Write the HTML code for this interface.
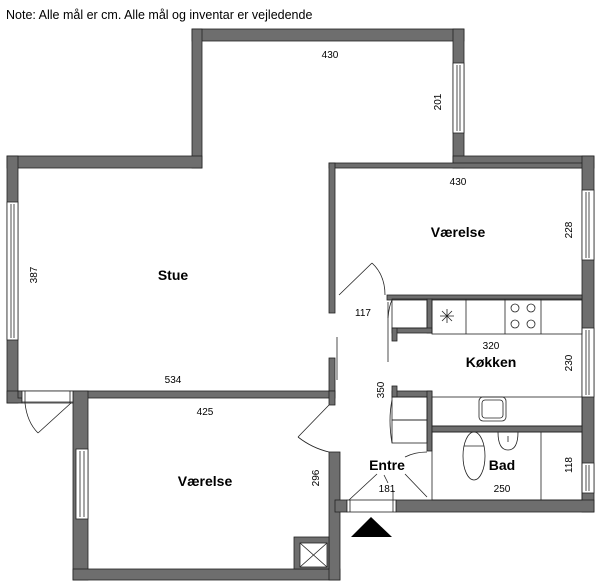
<!DOCTYPE html>
<html><head><meta charset="utf-8"><style>
html,body{margin:0;padding:0;background:#fff;width:600px;height:586px;overflow:hidden}
svg{display:block}
text{font-family:"Liberation Sans",sans-serif;font-size:10px;fill:#000}
.b{font-weight:bold;font-size:14px}
</style></head><body>
<svg width="600" height="586" viewBox="0 0 600 586" xmlns="http://www.w3.org/2000/svg">
<text x="6" y="19" style="font-size:12.5px">Note: Alle mål er cm. Alle mål og inventar er vejledende</text>
<g fill="#6e6e6e" stroke="#222" stroke-width="0.8">
<rect x="192" y="29" width="272" height="12"/>
<rect x="192" y="29" width="10" height="139"/>
<rect x="453" y="29" width="11" height="139"/>
<rect x="7" y="156" width="195" height="12"/>
<rect x="7" y="156" width="11" height="247"/>
<rect x="7" y="391" width="15" height="12"/>
<rect x="453" y="156" width="141" height="12"/>
<rect x="329" y="163" width="265" height="5"/>
<rect x="582" y="156" width="12" height="356"/>
<rect x="329" y="163" width="6" height="150"/>
<rect x="329" y="358" width="6" height="40"/>
<rect x="18" y="391" width="317" height="7"/>
<rect x="73" y="391" width="15" height="189"/>
<rect x="73" y="569" width="267" height="11"/>
<rect x="329" y="452" width="11" height="128"/>
<rect x="329" y="391" width="6" height="14"/>
<rect x="294" y="537" width="35" height="32"/>
<rect x="387" y="295" width="195" height="5"/>
<rect x="427" y="299" width="5" height="34"/>
<rect x="392" y="328" width="40" height="5"/>
<rect x="392" y="328" width="5" height="13"/>
<rect x="392" y="391" width="40" height="6"/>
<rect x="392" y="386" width="5" height="11"/>
<rect x="427" y="391" width="5" height="60"/>
<rect x="432" y="426" width="150" height="6"/>
<rect x="396" y="500" width="198" height="12"/>
<rect x="335" y="500" width="12" height="12"/>
</g>
<g fill="#fff" stroke="#222" stroke-width="0.8">
<rect x="453" y="63" width="11" height="70"/><line x1="457" y1="65" x2="457" y2="131"/><line x1="460" y1="65" x2="460" y2="131"/>
<rect x="7" y="202" width="11" height="138"/><line x1="11" y1="204" x2="11" y2="338"/><line x1="14" y1="204" x2="14" y2="338"/>
<rect x="582" y="190" width="12" height="70"/><line x1="586" y1="192" x2="586" y2="258"/><line x1="589" y1="192" x2="589" y2="258"/>
<rect x="582" y="328" width="12" height="69"/><line x1="586" y1="330" x2="586" y2="395"/><line x1="589" y1="330" x2="589" y2="395"/>
<rect x="582" y="463" width="12" height="30"/><line x1="586" y1="465" x2="586" y2="491"/><line x1="589" y1="465" x2="589" y2="491"/>
<rect x="76" y="449" width="12" height="70"/><line x1="80" y1="451" x2="80" y2="517"/><line x1="84" y1="451" x2="84" y2="517"/>
<rect x="347" y="500" width="49" height="12"/><line x1="350" y1="500" x2="350" y2="512"/><line x1="393" y1="500" x2="393" y2="512"/>
<rect x="22" y="391" width="51" height="12"/><line x1="25" y1="391" x2="25" y2="403"/><line x1="70" y1="391" x2="70" y2="403"/><line x1="22" y1="402" x2="73" y2="402"/>
<rect x="300" y="543" width="27" height="24"/>
</g>
<g fill="none" stroke="#222" stroke-width="0.8">
<line x1="300" y1="543" x2="327" y2="567"/><line x1="327" y1="543" x2="300" y2="567"/>
<line x1="38" y1="433" x2="71" y2="403"/><path d="M25 403 Q27 422 38 433"/>
<line x1="339" y1="295" x2="372" y2="263"/><path d="M372 263 Q385 275 385 295"/>
<line x1="337" y1="337" x2="337" y2="380"/>
<line x1="329" y1="405" x2="298" y2="437"/><path d="M298 437 Q312 448 329 452"/>
<line x1="388" y1="302" x2="388" y2="362"/><path d="M388 318 Q389 306 392 300"/>
<path d="M392 400 Q388 420 392 443"/>
<rect x="432" y="299" width="150" height="35"/>
<line x1="466" y1="299" x2="466" y2="334"/><line x1="505" y1="299" x2="505" y2="334"/><line x1="541" y1="299" x2="541" y2="334"/>
<circle cx="515" cy="308" r="4"/><circle cx="531" cy="308" r="4"/><circle cx="515" cy="324" r="4"/><circle cx="531" cy="324" r="4"/>
<path d="M440 316h14M447 309v14M442 311l10 10M452 311l-10 10"/>
<rect x="392" y="299" width="35" height="29"/>
<rect x="432" y="397" width="150" height="29"/>
<rect x="479" y="397" width="27" height="24" rx="4"/><rect x="482" y="400" width="21" height="18" rx="3"/>
<rect x="392" y="397" width="35" height="23"/><rect x="392" y="420" width="35" height="23"/>
<rect x="432" y="432" width="150" height="68"/>
<line x1="541" y1="432" x2="541" y2="500"/>
<ellipse cx="474" cy="456" rx="11" ry="24"/><line x1="464" y1="446" x2="484" y2="446"/>
<path d="M498 432 Q498 450 508 450 Q518 450 518 432"/><line x1="508" y1="436" x2="508" y2="442"/>
<path d="M405 457 Q415 452 427 452"/>
<line x1="349" y1="500" x2="377" y2="474"/><line x1="427" y1="497" x2="405" y2="474"/>
<line x1="384" y1="475" x2="388" y2="483"/><line x1="393" y1="490" x2="393" y2="500"/>
</g>
<polygon points="351,537 371,517 392,537" fill="#000"/>
<text x="330" y="58" text-anchor="middle">430</text>
<text transform="translate(441,102) rotate(-90)" text-anchor="middle">201</text>
<text x="458" y="185" text-anchor="middle">430</text>
<text class="b" x="458" y="237" text-anchor="middle">Værelse</text>
<text transform="translate(572,230) rotate(-90)" text-anchor="middle">228</text>
<text transform="translate(37,275) rotate(-90)" text-anchor="middle">387</text>
<text class="b" x="173" y="280" text-anchor="middle">Stue</text>
<text x="363" y="316" text-anchor="middle">117</text>
<text x="491" y="349" text-anchor="middle">320</text>
<text class="b" x="491" y="367" text-anchor="middle">Køkken</text>
<text transform="translate(572,363) rotate(-90)" text-anchor="middle">230</text>
<text x="173" y="383" text-anchor="middle">534</text>
<text transform="translate(384,390) rotate(-90)" text-anchor="middle">350</text>
<text x="205" y="415" text-anchor="middle">425</text>
<text class="b" x="205" y="486" text-anchor="middle">Værelse</text>
<text transform="translate(319,478) rotate(-90)" text-anchor="middle">296</text>
<text class="b" x="387" y="470" text-anchor="middle">Entre</text>
<text x="387" y="492" text-anchor="middle">181</text>
<text class="b" x="502" y="470" text-anchor="middle">Bad</text>
<text x="502" y="492" text-anchor="middle">250</text>
<text transform="translate(572,465) rotate(-90)" text-anchor="middle">118</text>
</svg>
</body></html>
